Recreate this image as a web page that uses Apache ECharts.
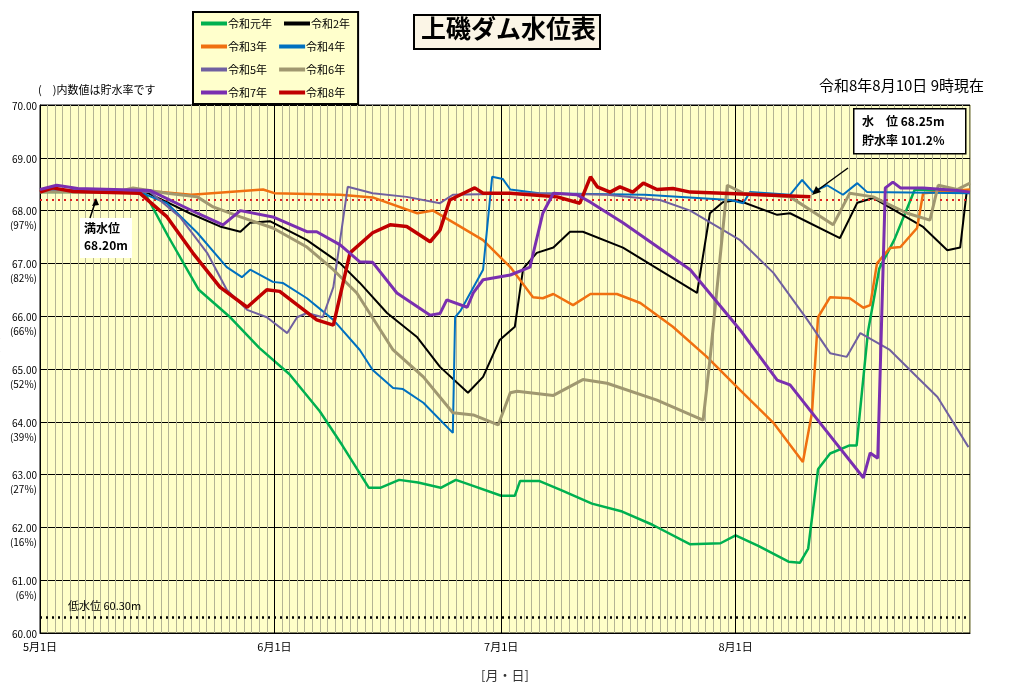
<!DOCTYPE html>
<html><head><meta charset="utf-8">
<script src="https://cdn.jsdelivr.net/npm/echarts@6/dist/echarts.min.js"></script>
<style>html,body{margin:0;padding:0;background:#fff}#c{width:1024px;height:692px}</style>
</head><body><div id="c"></div>
<script>
const monthDays = [0, 31, 61, 92];
const monthLabels = ['5月1日', '6月1日', '7月1日', '8月1日'];
const yTicks = [60, 61, 62, 63, 64, 65, 66, 67, 68, 69, 70];
const pctLabels = {61: '(6%)', 62: '(16%)', 63: '(27%)', 64: '(39%)', 65: '(52%)', 66: '(66%)', 67: '(82%)', 68: '(97%)'};
const seriesNames = ['令和元年', '令和2年', '令和3年', '令和4年', '令和5年', '令和6年', '令和7年', '令和8年'];
const fullLevel = 68.20;
const lowLevel = 60.30;

const r1 = [[0,68.35],[12,68.35],[14,68.3],[17,67.5],[21,66.5],[25,66.0],[29,65.4],[33,64.9],[37,64.2],[40,63.55],[43.5,62.75],[45,62.75],[47.5,62.9],[50,62.85],[53,62.75],[55,62.9],[57,62.8],[61,62.6],[62.8,62.6],[63.5,62.88],[66,62.88],[69,62.7],[73,62.45],[77,62.3],[81,62.05],[86,61.68],[90,61.7],[92,61.85],[95,61.65],[99,61.35],[100.5,61.33],[101.6,61.6],[102.9,63.1],[104.5,63.4],[107,63.55],[108,63.55],[109.5,65.7],[111,66.9],[113,67.45],[115.7,68.4],[123,68.35]];
const r2 = [[0,68.4],[14,68.35],[16.8,68.16],[19.8,67.95],[23.8,67.7],[26.5,67.6],[27.8,67.77],[30.4,67.8],[35.3,67.44],[39.7,67.0],[42.3,66.63],[45.9,66.06],[49.9,65.6],[52.9,65.04],[56.6,64.55],[58.6,64.85],[60.8,65.55],[62.8,65.8],[63.9,66.9],[65.7,67.2],[67.9,67.3],[70.1,67.6],[71.8,67.6],[77.1,67.3],[86.9,66.44],[88.6,67.95],[90.3,68.16],[92.2,68.2],[97.5,67.92],[99.2,67.95],[105.8,67.48],[108.1,68.15],[110.2,68.24],[116.8,67.69],[120,67.25],[121.7,67.3],[122.6,68.4]];
const r3 = [[0,68.4],[16,68.35],[20,68.3],[29.5,68.4],[31,68.33],[39.7,68.3],[44,68.25],[49.9,67.95],[52,68.0],[55.2,67.73],[58.6,67.44],[62.2,66.93],[65.2,66.36],[66.5,66.34],[67.9,66.42],[70.5,66.21],[72.8,66.42],[76.3,66.42],[79.4,66.25],[83.7,65.8],[88.2,65.23],[92.6,64.6],[97,63.98],[100.9,63.24],[102.1,64.17],[102.9,65.98],[104.5,66.36],[107.1,66.34],[108.9,66.16],[109.8,66.21],[110.7,67.0],[112.4,67.29],[113.8,67.31],[116,67.67],[116.8,68.33],[123,68.4]];
const r4 = [[0,68.4],[13.2,68.35],[16.8,68.14],[20.8,67.58],[24.7,66.93],[26.7,66.74],[27.8,66.88],[30.8,66.65],[32.1,66.63],[35.3,66.34],[38.8,65.93],[42.3,65.36],[44,64.98],[46.7,64.64],[48,64.62],[50.7,64.36],[54.6,63.79],[54.9,65.98],[55.6,66.1],[58.6,66.88],[59.8,68.64],[61.2,68.6],[62.2,68.4],[66,68.33],[80,68.3],[91.3,68.2],[93,68.14],[93.9,68.35],[99.2,68.3],[100.8,68.58],[102.2,68.35],[104.1,68.48],[106.2,68.3],[108.1,68.52],[109.4,68.35],[123,68.33]];
const r5 = [[0,68.4],[14.6,68.35],[18.5,67.88],[22.1,67.2],[24.7,66.5],[27.4,66.12],[30,65.98],[32.7,65.68],[34,65.98],[35.3,66.06],[37.4,65.98],[38.8,66.55],[40.7,68.45],[44,68.33],[48.5,68.26],[52.9,68.14],[54.6,68.3],[65,68.33],[75,68.3],[82,68.2],[86,68.0],[92.6,67.44],[97,66.82],[101.5,65.93],[104.5,65.3],[106.7,65.23],[108.5,65.68],[112.4,65.36],[116,64.85],[118.7,64.47],[122.8,63.52]];
const r6 = [[0,68.35],[10,68.35],[12.3,68.43],[16.8,68.33],[20.8,68.26],[22.9,68.07],[26.5,67.88],[30.8,67.67],[35.3,67.31],[38.8,66.88],[41.9,66.44],[46.7,65.36],[50.7,64.85],[54.6,64.17],[57.3,64.13],[60.6,63.94],[62.2,64.55],[63.1,64.58],[67.9,64.5],[71.8,64.8],[75,64.73],[81.6,64.41],[87.7,64.03],[88.6,65.17],[90.9,68.48],[93,68.33],[99.2,68.26],[104.9,67.73],[107.1,68.33],[110.2,68.26],[114.7,67.95],[117.7,67.82],[118.8,68.48],[121.3,68.4],[123,68.52]];
const r7 = [[0,68.4],[2.2,68.48],[5,68.42],[14.6,68.38],[20.8,67.95],[24.2,67.73],[26.5,68.0],[30.8,67.88],[35.3,67.6],[36.6,67.6],[39.7,67.35],[42.3,67.03],[44,67.02],[47.2,66.44],[51.6,66.02],[52.9,66.05],[53.8,66.31],[56.5,66.17],[57.3,66.44],[58.6,66.69],[62.2,66.78],[64.8,66.93],[66.5,67.95],[67.9,68.33],[71,68.3],[72.8,68.16],[77.1,67.77],[86,66.88],[92.6,65.74],[97.5,64.79],[99.2,64.7],[103.6,63.9],[108.9,62.94],[109.8,63.41],[110.8,63.31],[111.8,68.43],[112.8,68.54],[113.8,68.43],[116.8,68.43],[121.3,68.38],[123,68.35]];
const r8 = [[0,68.35],[1.7,68.43],[4.4,68.36],[13.2,68.33],[16.8,67.88],[20.2,67.2],[23.8,66.55],[27.4,66.17],[30,66.5],[31.7,66.47],[36.6,65.93],[38.8,65.83],[41,67.2],[44,67.58],[46.3,67.73],[48.5,67.7],[51.6,67.41],[52.9,67.63],[54.2,68.2],[55.6,68.3],[57.5,68.43],[58.6,68.33],[62.2,68.33],[68.4,68.26],[71.4,68.14],[72.8,68.64],[73.7,68.45],[75.4,68.35],[76.7,68.45],[78.4,68.35],[79.8,68.52],[81.6,68.4],[83.7,68.42],[86,68.35],[90.3,68.33],[101.9,68.26]];

const allData = [r1, r2, r3, r4, r5, r6, r7, r8];
const colors = ['#00b050', '#000000', '#f07010', '#0070c0', '#7060a0', '#a09870', '#7a2fb0', '#c00000'];
const widths = [2.5, 2, 2.5, 2, 2, 3, 3, 3.5];

const font = '"Noto Sans CJK JP", sans-serif';
const chart = echarts.init(document.getElementById('c'));

const series = seriesNames.map((n, i) => ({
  name: n, type: 'line', data: allData[i], showSymbol: false, symbol: 'none',
  lineStyle: {color: colors[i], width: widths[i]}, itemStyle: {color: colors[i]},
  z: 3 + (i === 7 ? 5 : i), animation: false
}));
series.push({
  type: 'line', data: [], silent: true, animation: false,
  markLine: {silent: true, symbol: 'none', label: {show: false},
    data: [
      ...monthDays.slice(1).map(d => ({xAxis: d, lineStyle: {color: '#000', width: 1, type: 'solid'}})),
      {yAxis: fullLevel, lineStyle: {color: '#e02020', width: 2, type: [2, 4]}},
      {yAxis: lowLevel, lineStyle: {color: '#000', width: 2.5, type: [2, 4]}}
    ]}
});

chart.setOption({
  animation: false,
  textStyle: {fontFamily: font},
  grid: {left: 40, right: 54, top: 105, bottom: 59, backgroundColor: '#ffffc8', show: true, borderColor: '#000', borderWidth: 1, outerBoundsMode: 'none', containLabel: false},
  legend: {
    data: seriesNames, left: 193, top: 12, width: 172, itemGap: 12,
    itemWidth: 26, itemHeight: 4, icon: 'rect',
    backgroundColor: '#ffffcc', borderColor: '#000', borderWidth: 2,
    padding: [6, 8, 6, 8],
    textStyle: {fontSize: 11, fontFamily: font, color: '#000', padding: [0, 0, 0, -4]}
  },
  xAxis: {
    type: 'value', min: 0, max: 123, interval: 1,
    name: '[月・日]', nameLocation: 'middle', nameGap: 36,
    nameTextStyle: {fontSize: 13, color: '#333'},
    axisLine: {lineStyle: {color: '#000'}}, axisTick: {show: false},
    axisLabel: {fontSize: 11, color: '#000', margin: 8, showMinLabel: true,
      formatter: v => { const k = monthDays.indexOf(v); return k >= 0 ? monthLabels[k] : ''; }},
    splitLine: {show: true, lineStyle: {color: '#b4b494', width: 1}}
  },
  yAxis: {
    type: 'value', min: 60, max: 70, interval: 1,
    name: 'ダム水位(m)', nameLocation: 'middle', nameGap: 26, nameRotate: 90,
    nameTextStyle: {fontSize: 12, color: '#333'},
    axisLine: {lineStyle: {color: '#000'}}, axisTick: {show: false},
    axisLabel: {
      margin: 3, verticalAlign: 'top', padding: [-6, 0, 0, 0],
      formatter: v => '{a|' + v.toFixed(2) + '}' + (pctLabels[v] ? '\n{b|' + pctLabels[v] + '}' : ''),
      rich: {a: {fontSize: 10, color: '#000', lineHeight: 14, align: 'right'},
             b: {fontSize: 10, color: '#000', lineHeight: 14, align: 'right'}}
    },
    splitLine: {show: true, lineStyle: {color: '#000', width: 1}}
  },
  series: series,
  graphic: [
    {type: 'rect', left: 413, top: 14, shape: {width: 186, height: 34}, style: {fill: '#fbf5e6', stroke: '#000', lineWidth: 2}},
    {type: 'text', left: 421, top: 16, style: {text: '上磯ダム水位表', font: 'bold 25px ' + font, fill: '#000'}},
    {type: 'text', right: 40, top: 78, style: {text: '令和8年8月10日 9時現在', font: '15px ' + font, fill: '#000'}},
    {type: 'text', left: 38, top: 84, style: {text: '(　)内数値は貯水率です', font: '11px ' + font, fill: '#000'}},
    {type: 'rect', left: 80, top: 218, shape: {width: 52, height: 40}, style: {fill: '#fff'}, z: 20},
    {type: 'text', left: 84, top: 220, z: 21, style: {text: '満水位\n68.20m', font: 'bold 12px ' + font, lineHeight: 17, fill: '#000'}},
    {type: 'line', z: 21, shape: {x1: 90, y1: 218, x2: 96, y2: 200}, style: {stroke: '#000', lineWidth: 1.5}},
    {type: 'polygon', z: 21, shape: {points: [[96, 198], [92, 206], [99, 205]]}, style: {fill: '#000'}},
    {type: 'rect', left: 853, top: 108, shape: {width: 112, height: 45}, style: {fill: '#fff', stroke: '#000', lineWidth: 1.5}, z: 20},
    {type: 'text', left: 862, top: 112, z: 21, style: {text: '水　位 68.25m\n貯水率 101.2%', font: 'bold 12px ' + font, lineHeight: 19, fill: '#000'}},
    {type: 'line', z: 21, shape: {x1: 848, y1: 168, x2: 815, y2: 192}, style: {stroke: '#000', lineWidth: 1.5}},
    {type: 'polygon', z: 21, shape: {points: [[812, 195], [816, 186], [821, 192]]}, style: {fill: '#000'}},
    {type: 'text', left: 68, top: 600, z: 21, style: {text: '低水位 60.30m', font: '11px ' + font, fill: '#000'}}
  ]
});
</script></body></html>
